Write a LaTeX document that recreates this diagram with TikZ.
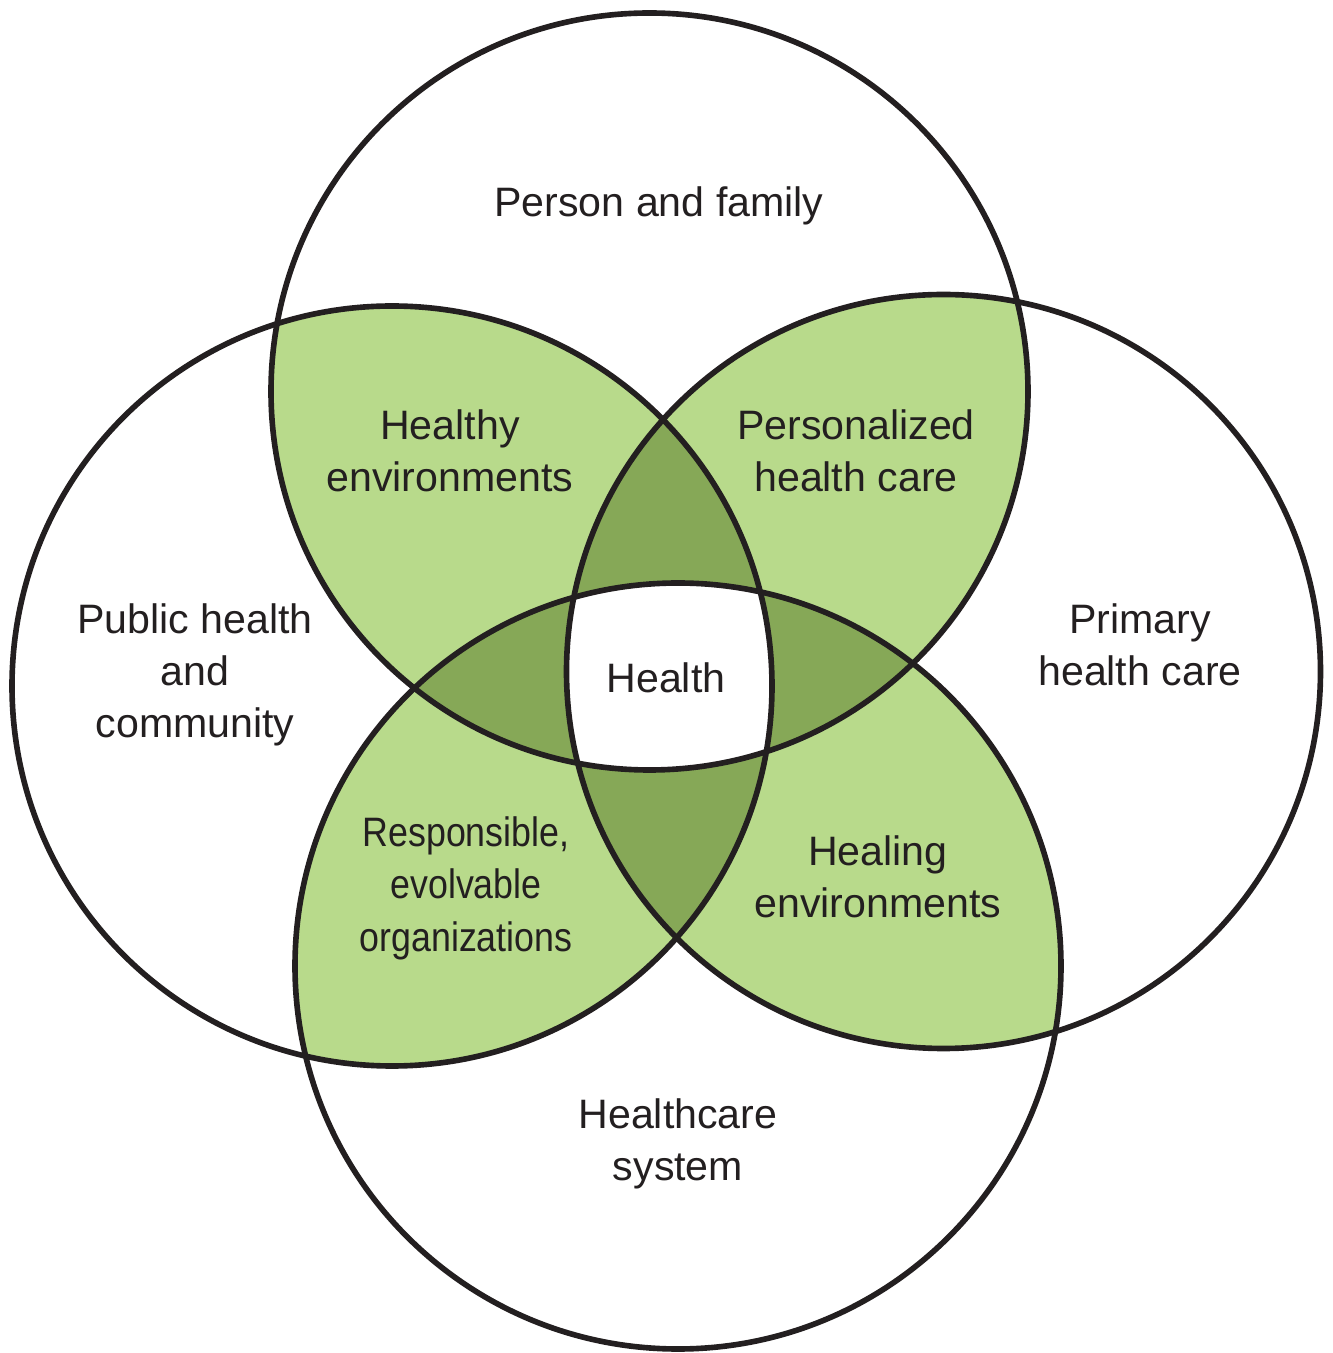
\documentclass[tikz,border=0pt]{standalone}
\usepackage{fontspec}
\setmainfont{Liberation Sans}
\newfontfamily\narrowfont[FakeStretch=0.87]{Liberation Sans}

\definecolor{leafgreen}{RGB}{184,218,139}
\definecolor{mossgreen}{RGB}{134,168,87}
\definecolor{inkblack}{RGB}{35,31,32}

\begin{document}
\begin{tikzpicture}[
  ring/.style={draw=inkblack, line width=1.6pt},
  txt/.style={inner sep=0pt, align=center, text=inkblack,
              font=\fontsize{11.7pt}{14.8pt}\selectfont},
  narrowtxt/.style={txt, font=\narrowfont\fontsize{11.7pt}{14.9pt}\selectfont},
]
\useasboundingbox (0,0) rectangle (13.33,13.53);

% the four circles
\def\cT{(6.495,9.615) circle (3.785)}
\def\cL{(3.92,6.67) circle (3.80)}
\def\cR{(9.435,6.815) circle (3.77)}
\def\cB{(6.78,3.87) circle (3.83)}

% overlaps of two circles
\begin{scope}\clip \cT; \fill[leafgreen] \cL; \fill[leafgreen] \cR; \end{scope}
\begin{scope}\clip \cB; \fill[leafgreen] \cL; \fill[leafgreen] \cR; \end{scope}

% overlaps of three circles
\begin{scope}\clip \cT; \clip \cL; \fill[mossgreen] \cB; \end{scope}
\begin{scope}\clip \cT; \clip \cR; \fill[mossgreen] \cB; \end{scope}
\begin{scope}\clip \cT; \clip \cL; \fill[mossgreen] \cR; \end{scope}
\begin{scope}\clip \cB; \clip \cL; \fill[mossgreen] \cR; \end{scope}

% overlap of all four
\begin{scope}\clip \cT; \clip \cL; \clip \cR; \fill[white] \cB; \end{scope}

% outlines
\draw[ring] \cT;
\draw[ring] \cL;
\draw[ring] \cR;
\draw[ring] \cB;

% labels
\node[txt] (person)   at (6.59,11.475) {Person and family};
\node[txt] (healthy)  at (4.50,9.02)   {Healthy\\environments};
\node[txt] (personal) at (8.56,9.02)   {Personalized\\health care};
\node[txt] (public)   at (1.95,6.78)   {Public health\\and\\community};
\node[txt] (health)   at (6.66,6.75)   {Health};
\node[txt] (primary)  at (11.40,7.08)  {Primary\\health care};
\node[narrowtxt] (orgs) at (4.66,4.65) {Responsible,\\evolvable\\organizations};
\node[txt] (healing)  at (8.78,4.76)   {Healing\\environments};
\node[txt] (system)   at (6.78,2.095)  {Healthcare\\system};
\end{tikzpicture}
\end{document}
